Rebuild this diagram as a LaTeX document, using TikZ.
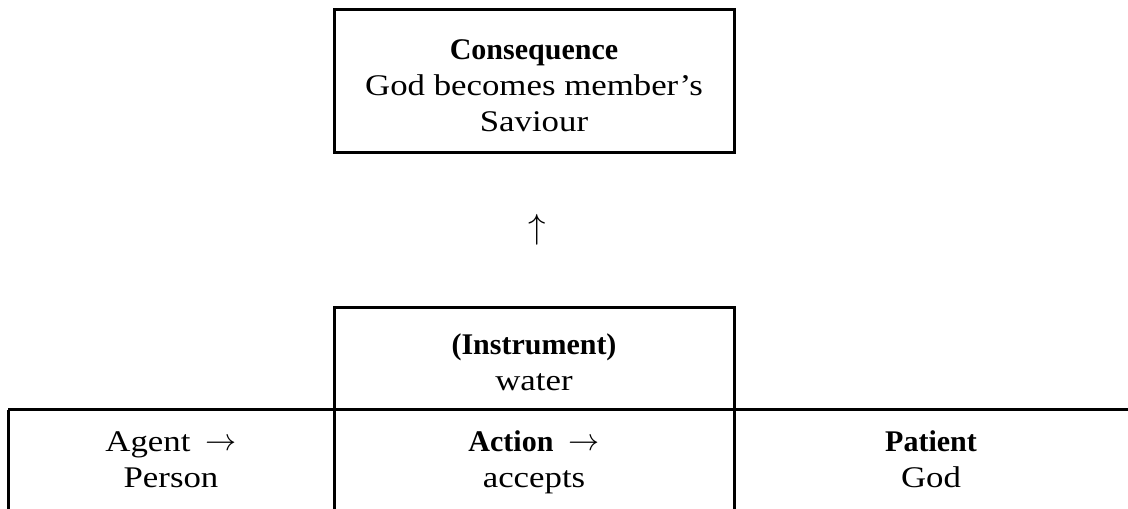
\documentclass[tikz,border=0pt]{standalone}
\usepackage{graphicx}
\usepackage{fontspec}
\setmainfont{Liberation Serif}
\newfontfamily\regf{Liberation Serif}[FakeStretch=1.16]
\newcommand{\bigrarrow}{\raisebox{1pt}{\scalebox{1.25}{$\rightarrow$}}}
\newcommand{\biguarrow}{\scalebox{1.4}{$\uparrow$}}
\begin{document}
\begin{tikzpicture}[x=1pt,y=1pt,
  rule/.style={line width=3pt},
  boxed/.style={draw,line width=3pt,minimum width=400pt,inner sep=0pt},
  txt/.style={align=center,font=\fontsize{30}{36}\selectfont,inner sep=0pt},
]
\useasboundingbox (0,0) rectangle (1128,509);
% consequence box
\node[boxed,minimum height=143pt] (cons) at (534,427.5) {};
\node[txt] (constxt) at (534,421) {\strut\textbf{Consequence}\\\strut{\regf God becomes member’s}\\\strut{\regf Saviour}};
% arrow
\node[txt] (up) at (537,279) {\biguarrow};
% instrument box
\node[boxed,minimum height=102pt] (instr) at (534,150) {};
\node[txt] (instrtxt) at (534,144) {\strut\textbf{(Instrument)}\\\strut{\regf water}};
% bottom row lines
\coordinate (rowL) at (8,99);
\coordinate (rowR) at (1128,99);
\coordinate (bL) at (8,0);
\coordinate (c1t) at (334,99);
\coordinate (c1b) at (334,0);
\coordinate (c2t) at (734,99);
\coordinate (c2b) at (734,0);
\draw[rule] (rowL) -- (rowR);
\draw[rule] (rowL) -- (bL);
\draw[rule] (c1t) -- (c1b);
\draw[rule] (c2t) -- (c2b);
% bottom texts
\node[txt] (agent) at (171,47) {\strut{\regf Agent}\hspace{0.5em}\bigrarrow\\\strut{\regf Person}};
\node[txt] (action) at (534,47) {\strut\textbf{Action}\hspace{0.5em}\bigrarrow\\\strut{\regf accepts}};
\node[txt] (patient) at (931,47) {\strut\textbf{Patient}\\\strut{\regf God}};
\end{tikzpicture}
\end{document}
